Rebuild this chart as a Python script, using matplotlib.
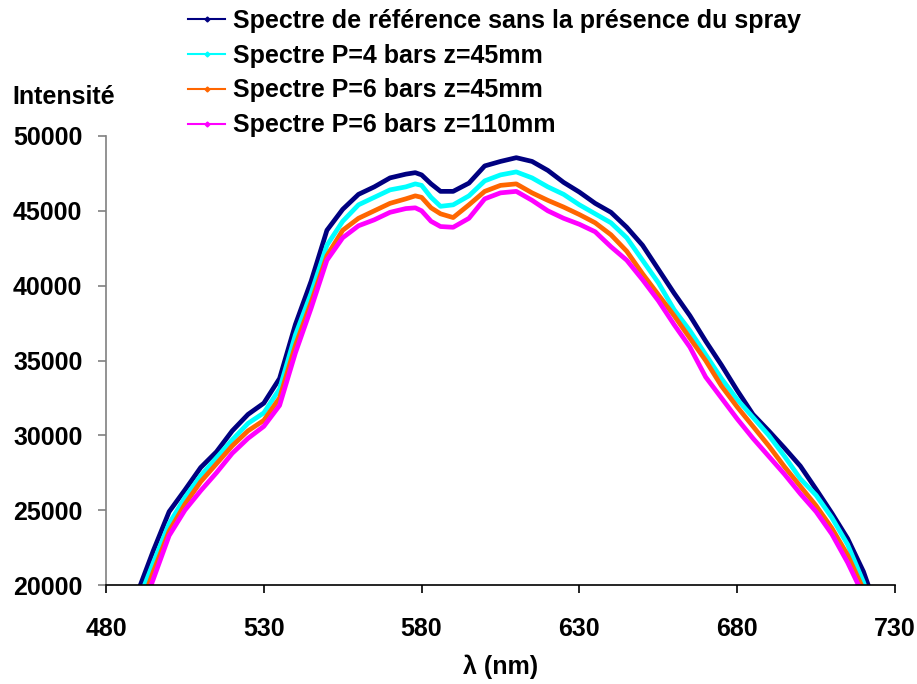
import matplotlib.pyplot as plt
from matplotlib.lines import Line2D

# longueurs d'onde (nm) et intensités
wl = [490, 495, 500, 505, 510, 515, 520, 525, 530, 535, 540, 545, 550, 555, 560,
      565, 570, 575, 578, 580, 583, 586, 590, 595, 600, 605, 610, 615, 620, 625,
      630, 635, 640, 645, 650, 655, 660, 665, 670, 675, 680, 685, 690, 695, 700,
      705, 710, 715, 720, 722]

ref = [19500, 22300, 24900, 26350, 27850, 28900, 30300, 31400, 32150, 33800,
       37400, 40300, 43700, 45100, 46100, 46600, 47200, 47450, 47550, 47400,
       46800, 46300, 46300, 46850, 48000, 48300, 48550, 48300, 47700, 46900,
       46250, 45500, 44900, 43900, 42700, 41100, 39500, 38000, 36300, 34700,
       33000, 31400, 30300, 29150, 27950, 26400, 24800, 23100, 20900, 19700]

p4_z45 = [18800, 21500, 24100, 25850, 27300, 28500, 29700, 30800, 31500, 33100,
          36700, 39500, 42700, 44300, 45400, 45900, 46400, 46600, 46800, 46700,
          45900, 45300, 45400, 46000, 47000, 47400, 47600, 47200, 46600, 46100,
          45400, 44800, 44200, 43200, 41700, 40200, 38400, 37000, 35400, 33800,
          32400, 31200, 30000, 28600, 27100, 26000, 24500, 22700, 20200, 19000]

p6_z45 = [18000, 20900, 23600, 25400, 26900, 28100, 29300, 30300, 31000, 32500,
          36000, 38900, 42000, 43700, 44500, 45000, 45500, 45800, 46000, 45900,
          45200, 44800, 44550, 45400, 46300, 46700, 46800, 46200, 45700, 45250,
          44750, 44200, 43400, 42300, 40800, 39400, 38000, 36500, 35000, 33300,
          31900, 30600, 29300, 27900, 26600, 25300, 23800, 22000, 19700, 18500]

p6_z110 = [17500, 20400, 23300, 25000, 26300, 27500, 28800, 29800, 30600, 32000,
           35500, 38500, 41700, 43200, 44000, 44400, 44900, 45150, 45200, 45000,
           44300, 43950, 43900, 44500, 45800, 46200, 46300, 45700, 45000, 44500,
           44100, 43600, 42600, 41700, 40400, 39000, 37400, 35900, 33900, 32500,
           31100, 29800, 28600, 27400, 26100, 24900, 23400, 21500, 19300, 18000]

labels = ["Spectre de référence sans la présence du spray",
          "Spectre P=4 bars z=45mm",
          "Spectre P=6 bars z=45mm",
          "Spectre P=6 bars z=110mm"]
couleurs = ["#000080", "#00FFFF", "#FF6600", "#FF00FF"]
series = [ref, p4_z45, p6_z45, p6_z110]

plt.rcParams['font.family'] = ['Liberation Sans', 'DejaVu Sans']
plt.rcParams['font.weight'] = 'bold'

fig = plt.figure(figsize=(9.17, 6.84), dpi=100)
ax = fig.add_axes([0.1156, 0.1447, 0.8604, 0.6565])

for s, c in zip(series, couleurs):
    ax.plot(wl, s, color=c, lw=3.4, solid_joinstyle='round')

ax.set_xlim(480, 730)
ax.set_ylim(20000, 50000)
ax.set_xticks([480, 530, 580, 630, 680, 730])
ax.set_yticks(range(20000, 50001, 5000))
ax.tick_params(labelsize=18, length=6, width=1.2, direction='out')
ax.tick_params(axis='x', pad=17)
ax.tick_params(axis='y', pad=11, color='#808080')
for lab in ax.get_xticklabels() + ax.get_yticklabels():
    lab.set_fontweight('bold')

ax.spines['top'].set_visible(False)
ax.spines['right'].set_visible(False)
ax.spines['left'].set_color('#808080')
ax.spines['left'].set_linewidth(1.2)
ax.spines['bottom'].set_linewidth(1.2)

ax.set_xlabel("λ (nm)", fontsize=18, fontweight='bold', labelpad=10)
fig.text(12 / 917, 1 - 97 / 684, "Intensité", fontsize=18, fontweight='bold', va='center')

handles = [Line2D([0], [0], color=c, lw=1.5, marker='D', markersize=2.5) for c in couleurs]
fig.legend(handles, labels, loc='upper left', bbox_to_anchor=(188 / 917, 1 - 9 / 684),
           frameon=False, borderpad=0, borderaxespad=0, handlelength=1.48,
           handletextpad=0.32, labelspacing=0.43, prop={'weight': 'bold', 'size': 18})

fig.savefig("out.png", dpi=100)
